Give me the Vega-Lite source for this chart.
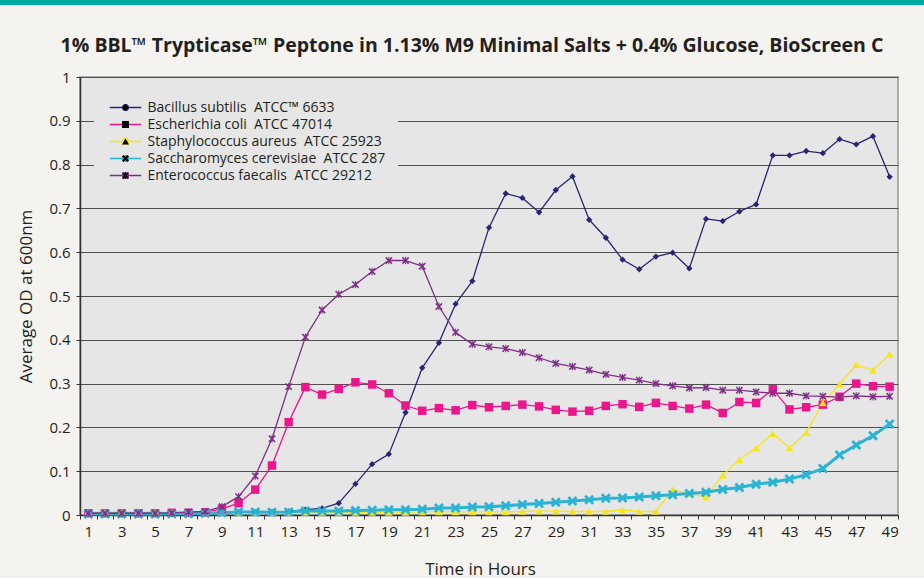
{
  "$schema": "https://vega.github.io/schema/vega-lite/v6.json",
  "background": "#F4F3EF",
  "padding": 0,
  "spacing": 29,
  "config": {
    "font": "Open Sans",
    "axis": {"labelFont": "Open Sans", "titleFont": "Open Sans", "labelColor": "#231F20", "titleColor": "#231F20", "titleFontWeight": "normal", "labelFontSize": 15, "titleFontSize": 17},
    "legend": {"labelFont": "Open Sans"}
  },
  "vconcat": [
    {
      "width": 924,
      "height": 5,
      "data": {"values": [{}]},
      "mark": {"type": "rect", "color": "#00A99D"},
      "encoding": {},
      "view": {"fill": "#00A99D", "stroke": null}
    },
    {
      "spacing": 0,
      "hconcat": [
        {
          "width": 1,
          "height": 438,
          "data": {"values": []},
          "mark": {"type": "rect"},
          "encoding": {},
          "view": {"fill": "#F4F3EF", "stroke": null}
        },
        {
          "width": 818,
          "height": 438,
          "title": {"text": "1% BBL™ Trypticase™ Peptone in 1.13% M9 Minimal Salts + 0.4% Glucose, BioScreen C", "fontSize": 19.5, "fontWeight": "bold", "color": "#231F20", "offset": 14, "dx": -17, "anchor": "middle"},
          "view": {"fill": "#E6E6E6", "stroke": "#999999", "strokeWidth": 1.5},
          "data": {"values": [
            {"h":1,"s":"Bacillus subtilis","od":0.004},{"h":2,"s":"Bacillus subtilis","od":0.005},{"h":3,"s":"Bacillus subtilis","od":0.004},{"h":4,"s":"Bacillus subtilis","od":0.005},{"h":5,"s":"Bacillus subtilis","od":0.004},{"h":6,"s":"Bacillus subtilis","od":0.005},{"h":7,"s":"Bacillus subtilis","od":0.005},{"h":8,"s":"Bacillus subtilis","od":0.006},{"h":9,"s":"Bacillus subtilis","od":0.006},{"h":10,"s":"Bacillus subtilis","od":0.006},{"h":11,"s":"Bacillus subtilis","od":0.007},{"h":12,"s":"Bacillus subtilis","od":0.007},{"h":13,"s":"Bacillus subtilis","od":0.008},{"h":14,"s":"Bacillus subtilis","od":0.012},{"h":15,"s":"Bacillus subtilis","od":0.015},{"h":16,"s":"Bacillus subtilis","od":0.027},{"h":17,"s":"Bacillus subtilis","od":0.071},{"h":18,"s":"Bacillus subtilis","od":0.116},{"h":19,"s":"Bacillus subtilis","od":0.139},{"h":20,"s":"Bacillus subtilis","od":0.234},{"h":21,"s":"Bacillus subtilis","od":0.336},{"h":22,"s":"Bacillus subtilis","od":0.393},{"h":23,"s":"Bacillus subtilis","od":0.482},{"h":24,"s":"Bacillus subtilis","od":0.534},{"h":25,"s":"Bacillus subtilis","od":0.656},{"h":26,"s":"Bacillus subtilis","od":0.734},{"h":27,"s":"Bacillus subtilis","od":0.724},{"h":28,"s":"Bacillus subtilis","od":0.691},{"h":29,"s":"Bacillus subtilis","od":0.742},{"h":30,"s":"Bacillus subtilis","od":0.773},{"h":31,"s":"Bacillus subtilis","od":0.674},{"h":32,"s":"Bacillus subtilis","od":0.633},{"h":33,"s":"Bacillus subtilis","od":0.583},{"h":34,"s":"Bacillus subtilis","od":0.561},{"h":35,"s":"Bacillus subtilis","od":0.59},{"h":36,"s":"Bacillus subtilis","od":0.599},{"h":37,"s":"Bacillus subtilis","od":0.563},{"h":38,"s":"Bacillus subtilis","od":0.676},{"h":39,"s":"Bacillus subtilis","od":0.671},{"h":40,"s":"Bacillus subtilis","od":0.693},{"h":41,"s":"Bacillus subtilis","od":0.709},{"h":42,"s":"Bacillus subtilis","od":0.821},{"h":43,"s":"Bacillus subtilis","od":0.821},{"h":44,"s":"Bacillus subtilis","od":0.831},{"h":45,"s":"Bacillus subtilis","od":0.826},{"h":46,"s":"Bacillus subtilis","od":0.858},{"h":47,"s":"Bacillus subtilis","od":0.846},{"h":48,"s":"Bacillus subtilis","od":0.865},{"h":49,"s":"Bacillus subtilis","od":0.772},
            {"h":1,"s":"Escherichia coli","od":0.004},{"h":2,"s":"Escherichia coli","od":0.004},{"h":3,"s":"Escherichia coli","od":0.004},{"h":4,"s":"Escherichia coli","od":0.004},{"h":5,"s":"Escherichia coli","od":0.004},{"h":6,"s":"Escherichia coli","od":0.005},{"h":7,"s":"Escherichia coli","od":0.005},{"h":8,"s":"Escherichia coli","od":0.006},{"h":9,"s":"Escherichia coli","od":0.014},{"h":10,"s":"Escherichia coli","od":0.027},{"h":11,"s":"Escherichia coli","od":0.058},{"h":12,"s":"Escherichia coli","od":0.113},{"h":13,"s":"Escherichia coli","od":0.212},{"h":14,"s":"Escherichia coli","od":0.292},{"h":15,"s":"Escherichia coli","od":0.275},{"h":16,"s":"Escherichia coli","od":0.288},{"h":17,"s":"Escherichia coli","od":0.303},{"h":18,"s":"Escherichia coli","od":0.298},{"h":19,"s":"Escherichia coli","od":0.278},{"h":20,"s":"Escherichia coli","od":0.25},{"h":21,"s":"Escherichia coli","od":0.238},{"h":22,"s":"Escherichia coli","od":0.244},{"h":23,"s":"Escherichia coli","od":0.239},{"h":24,"s":"Escherichia coli","od":0.251},{"h":25,"s":"Escherichia coli","od":0.246},{"h":26,"s":"Escherichia coli","od":0.249},{"h":27,"s":"Escherichia coli","od":0.252},{"h":28,"s":"Escherichia coli","od":0.248},{"h":29,"s":"Escherichia coli","od":0.24},{"h":30,"s":"Escherichia coli","od":0.236},{"h":31,"s":"Escherichia coli","od":0.238},{"h":32,"s":"Escherichia coli","od":0.249},{"h":33,"s":"Escherichia coli","od":0.253},{"h":34,"s":"Escherichia coli","od":0.247},{"h":35,"s":"Escherichia coli","od":0.256},{"h":36,"s":"Escherichia coli","od":0.249},{"h":37,"s":"Escherichia coli","od":0.243},{"h":38,"s":"Escherichia coli","od":0.252},{"h":39,"s":"Escherichia coli","od":0.233},{"h":40,"s":"Escherichia coli","od":0.258},{"h":41,"s":"Escherichia coli","od":0.256},{"h":42,"s":"Escherichia coli","od":0.287},{"h":43,"s":"Escherichia coli","od":0.241},{"h":44,"s":"Escherichia coli","od":0.246},{"h":45,"s":"Escherichia coli","od":0.252},{"h":46,"s":"Escherichia coli","od":0.27},{"h":47,"s":"Escherichia coli","od":0.3},{"h":48,"s":"Escherichia coli","od":0.294},{"h":49,"s":"Escherichia coli","od":0.293},
            {"h":1,"s":"Staphylococcus aureus","od":0.007},{"h":2,"s":"Staphylococcus aureus","od":0.007},{"h":3,"s":"Staphylococcus aureus","od":0.007},{"h":4,"s":"Staphylococcus aureus","od":0.007},{"h":5,"s":"Staphylococcus aureus","od":0.007},{"h":6,"s":"Staphylococcus aureus","od":0.007},{"h":7,"s":"Staphylococcus aureus","od":0.007},{"h":8,"s":"Staphylococcus aureus","od":0.007},{"h":9,"s":"Staphylococcus aureus","od":0.006},{"h":10,"s":"Staphylococcus aureus","od":0.006},{"h":11,"s":"Staphylococcus aureus","od":0.006},{"h":12,"s":"Staphylococcus aureus","od":0.006},{"h":13,"s":"Staphylococcus aureus","od":0.006},{"h":14,"s":"Staphylococcus aureus","od":0.006},{"h":15,"s":"Staphylococcus aureus","od":0.006},{"h":16,"s":"Staphylococcus aureus","od":0.006},{"h":17,"s":"Staphylococcus aureus","od":0.006},{"h":18,"s":"Staphylococcus aureus","od":0.006},{"h":19,"s":"Staphylococcus aureus","od":0.006},{"h":20,"s":"Staphylococcus aureus","od":0.006},{"h":21,"s":"Staphylococcus aureus","od":0.007},{"h":22,"s":"Staphylococcus aureus","od":0.007},{"h":23,"s":"Staphylococcus aureus","od":0.007},{"h":24,"s":"Staphylococcus aureus","od":0.007},{"h":25,"s":"Staphylococcus aureus","od":0.007},{"h":26,"s":"Staphylococcus aureus","od":0.007},{"h":27,"s":"Staphylococcus aureus","od":0.008},{"h":28,"s":"Staphylococcus aureus","od":0.009},{"h":29,"s":"Staphylococcus aureus","od":0.009},{"h":30,"s":"Staphylococcus aureus","od":0.008},{"h":31,"s":"Staphylococcus aureus","od":0.008},{"h":32,"s":"Staphylococcus aureus","od":0.008},{"h":33,"s":"Staphylococcus aureus","od":0.012},{"h":34,"s":"Staphylococcus aureus","od":0.008},{"h":35,"s":"Staphylococcus aureus","od":0.008},{"h":36,"s":"Staphylococcus aureus","od":0.058},{"h":37,"s":"Staphylococcus aureus","od":0.049},{"h":38,"s":"Staphylococcus aureus","od":0.041},{"h":39,"s":"Staphylococcus aureus","od":0.091},{"h":40,"s":"Staphylococcus aureus","od":0.126},{"h":41,"s":"Staphylococcus aureus","od":0.153},{"h":42,"s":"Staphylococcus aureus","od":0.186},{"h":43,"s":"Staphylococcus aureus","od":0.153},{"h":44,"s":"Staphylococcus aureus","od":0.188},{"h":45,"s":"Staphylococcus aureus","od":0.256},{"h":46,"s":"Staphylococcus aureus","od":0.299},{"h":47,"s":"Staphylococcus aureus","od":0.343},{"h":48,"s":"Staphylococcus aureus","od":0.33},{"h":49,"s":"Staphylococcus aureus","od":0.367},
            {"h":1,"s":"Saccharomyces cerevisiae","od":0.002},{"h":2,"s":"Saccharomyces cerevisiae","od":0.002},{"h":3,"s":"Saccharomyces cerevisiae","od":0.002},{"h":4,"s":"Saccharomyces cerevisiae","od":0.002},{"h":5,"s":"Saccharomyces cerevisiae","od":0.002},{"h":6,"s":"Saccharomyces cerevisiae","od":0.003},{"h":7,"s":"Saccharomyces cerevisiae","od":0.003},{"h":8,"s":"Saccharomyces cerevisiae","od":0.004},{"h":9,"s":"Saccharomyces cerevisiae","od":0.005},{"h":10,"s":"Saccharomyces cerevisiae","od":0.007},{"h":11,"s":"Saccharomyces cerevisiae","od":0.007},{"h":12,"s":"Saccharomyces cerevisiae","od":0.006},{"h":13,"s":"Saccharomyces cerevisiae","od":0.007},{"h":14,"s":"Saccharomyces cerevisiae","od":0.009},{"h":15,"s":"Saccharomyces cerevisiae","od":0.009},{"h":16,"s":"Saccharomyces cerevisiae","od":0.009},{"h":17,"s":"Saccharomyces cerevisiae","od":0.01},{"h":18,"s":"Saccharomyces cerevisiae","od":0.011},{"h":19,"s":"Saccharomyces cerevisiae","od":0.012},{"h":20,"s":"Saccharomyces cerevisiae","od":0.012},{"h":21,"s":"Saccharomyces cerevisiae","od":0.013},{"h":22,"s":"Saccharomyces cerevisiae","od":0.016},{"h":23,"s":"Saccharomyces cerevisiae","od":0.016},{"h":24,"s":"Saccharomyces cerevisiae","od":0.018},{"h":25,"s":"Saccharomyces cerevisiae","od":0.019},{"h":26,"s":"Saccharomyces cerevisiae","od":0.021},{"h":27,"s":"Saccharomyces cerevisiae","od":0.024},{"h":28,"s":"Saccharomyces cerevisiae","od":0.026},{"h":29,"s":"Saccharomyces cerevisiae","od":0.029},{"h":30,"s":"Saccharomyces cerevisiae","od":0.032},{"h":31,"s":"Saccharomyces cerevisiae","od":0.035},{"h":32,"s":"Saccharomyces cerevisiae","od":0.038},{"h":33,"s":"Saccharomyces cerevisiae","od":0.039},{"h":34,"s":"Saccharomyces cerevisiae","od":0.041},{"h":35,"s":"Saccharomyces cerevisiae","od":0.044},{"h":36,"s":"Saccharomyces cerevisiae","od":0.046},{"h":37,"s":"Saccharomyces cerevisiae","od":0.049},{"h":38,"s":"Saccharomyces cerevisiae","od":0.052},{"h":39,"s":"Saccharomyces cerevisiae","od":0.058},{"h":40,"s":"Saccharomyces cerevisiae","od":0.063},{"h":41,"s":"Saccharomyces cerevisiae","od":0.07},{"h":42,"s":"Saccharomyces cerevisiae","od":0.075},{"h":43,"s":"Saccharomyces cerevisiae","od":0.082},{"h":44,"s":"Saccharomyces cerevisiae","od":0.092},{"h":45,"s":"Saccharomyces cerevisiae","od":0.106},{"h":46,"s":"Saccharomyces cerevisiae","od":0.137},{"h":47,"s":"Saccharomyces cerevisiae","od":0.16},{"h":48,"s":"Saccharomyces cerevisiae","od":0.181},{"h":49,"s":"Saccharomyces cerevisiae","od":0.208},
            {"h":1,"s":"Enterococcus faecalis","od":0.004},{"h":2,"s":"Enterococcus faecalis","od":0.004},{"h":3,"s":"Enterococcus faecalis","od":0.004},{"h":4,"s":"Enterococcus faecalis","od":0.004},{"h":5,"s":"Enterococcus faecalis","od":0.004},{"h":6,"s":"Enterococcus faecalis","od":0.005},{"h":7,"s":"Enterococcus faecalis","od":0.007},{"h":8,"s":"Enterococcus faecalis","od":0.008},{"h":9,"s":"Enterococcus faecalis","od":0.019},{"h":10,"s":"Enterococcus faecalis","od":0.042},{"h":11,"s":"Enterococcus faecalis","od":0.089},{"h":12,"s":"Enterococcus faecalis","od":0.174},{"h":13,"s":"Enterococcus faecalis","od":0.293},{"h":14,"s":"Enterococcus faecalis","od":0.406},{"h":15,"s":"Enterococcus faecalis","od":0.468},{"h":16,"s":"Enterococcus faecalis","od":0.504},{"h":17,"s":"Enterococcus faecalis","od":0.526},{"h":18,"s":"Enterococcus faecalis","od":0.556},{"h":19,"s":"Enterococcus faecalis","od":0.581},{"h":20,"s":"Enterococcus faecalis","od":0.581},{"h":21,"s":"Enterococcus faecalis","od":0.568},{"h":22,"s":"Enterococcus faecalis","od":0.476},{"h":23,"s":"Enterococcus faecalis","od":0.417},{"h":24,"s":"Enterococcus faecalis","od":0.39},{"h":25,"s":"Enterococcus faecalis","od":0.384},{"h":26,"s":"Enterococcus faecalis","od":0.38},{"h":27,"s":"Enterococcus faecalis","od":0.371},{"h":28,"s":"Enterococcus faecalis","od":0.359},{"h":29,"s":"Enterococcus faecalis","od":0.346},{"h":30,"s":"Enterococcus faecalis","od":0.339},{"h":31,"s":"Enterococcus faecalis","od":0.331},{"h":32,"s":"Enterococcus faecalis","od":0.321},{"h":33,"s":"Enterococcus faecalis","od":0.314},{"h":34,"s":"Enterococcus faecalis","od":0.308},{"h":35,"s":"Enterococcus faecalis","od":0.3},{"h":36,"s":"Enterococcus faecalis","od":0.295},{"h":37,"s":"Enterococcus faecalis","od":0.29},{"h":38,"s":"Enterococcus faecalis","od":0.291},{"h":39,"s":"Enterococcus faecalis","od":0.285},{"h":40,"s":"Enterococcus faecalis","od":0.285},{"h":41,"s":"Enterococcus faecalis","od":0.281},{"h":42,"s":"Enterococcus faecalis","od":0.278},{"h":43,"s":"Enterococcus faecalis","od":0.278},{"h":44,"s":"Enterococcus faecalis","od":0.272},{"h":45,"s":"Enterococcus faecalis","od":0.271},{"h":46,"s":"Enterococcus faecalis","od":0.269},{"h":47,"s":"Enterococcus faecalis","od":0.272},{"h":48,"s":"Enterococcus faecalis","od":0.27},{"h":49,"s":"Enterococcus faecalis","od":0.271}
          ]},
          "encoding": {
            "x": {"field": "h", "type": "quantitative", "scale": {"domain": [0.5, 49.5], "nice": false, "zero": false},
              "axis": {
                "values": [0.5,1,1.5,2,2.5,3,3.5,4,4.5,5,5.5,6,6.5,7,7.5,8,8.5,9,9.5,10,10.5,11,11.5,12,12.5,13,13.5,14,14.5,15,15.5,16,16.5,17,17.5,18,18.5,19,19.5,20,20.5,21,21.5,22,22.5,23,23.5,24,24.5,25,25.5,26,26.5,27,27.5,28,28.5,29,29.5,30,30.5,31,31.5,32,32.5,33,33.5,34,34.5,35,35.5,36,36.5,37,37.5,38,38.5,39,39.5,40,40.5,41,41.5,42,42.5,43,43.5,44,44.5,45,45.5,46,46.5,47,47.5,48,48.5,49,49.5],
                "format": "~g",
                "labelExpr": "datum.value % 2 == 1 ? datum.label : ''",
                "tickOpacity": {"condition": {"test": "datum.value % 1 == 0", "value": 0}, "value": 1},
                "tickSize": 4, "tickColor": "#333333", "labelPadding": 5, "labelOverlap": false, "labelFlush": false,
                "grid": false, "domainColor": "#333333", "domainWidth": 1.5,
                "title": "Time in Hours", "titlePadding": 22, "titleX": 400
              }
            },
            "y": {"field": "od", "type": "quantitative", "scale": {"domain": [0, 1], "nice": false},
              "axis": {
                "values": [0,0.1,0.2,0.3,0.4,0.5,0.6,0.7,0.8,0.9,1],
                "format": ".1~f", "tickSize": 4, "tickColor": "#333333", "labelPadding": 6,
                "domainColor": "#333333", "domainWidth": 1.5, "gridColor": "#505050", "gridWidth": 1,
                "title": [" ", "Average OD at 600nm"], "titleLineHeight": 15, "titlePadding": 13.3
              }
            }
          },
          "layer": [
            {
              "mark": {"type": "line", "strokeJoin": "round"},
              "encoding": {
                "stroke": {"field": "s", "type": "nominal",
                  "scale": {"domain": ["Bacillus subtilis", "Escherichia coli", "Staphylococcus aureus", "Saccharomyces cerevisiae", "Enterococcus faecalis"],
                            "range": ["#262673", "#EC168C", "#F5E61A", "#2BB3D3", "#7E2F85"]},
                  "legend": {"orient": "none", "legendX": 94, "legendY": 88.5, "padding": 12, "title": null, "fillColor": "#E6E6E6",
                    "symbolType": "M-4.5,0L4.5,0", "symbolSize": 49, "symbolStrokeWidth": 1.5, "symbolOffset": 12.5,
                    "labelOffset": 15, "labelFontSize": 14, "labelColor": "#231F20", "rowPadding": 3, "labelLimit": 400,
                    "labelExpr": "datum.label == 'Bacillus subtilis' ? 'Bacillus subtilis\u00a0\u00a0ATCC™ 6633' : datum.label == 'Escherichia coli' ? 'Escherichia coli\u00a0\u00a0ATCC 47014' : datum.label == 'Staphylococcus aureus' ? 'Staphylococcus aureus\u00a0\u00a0ATCC 25923' : datum.label == 'Saccharomyces cerevisiae' ? 'Saccharomyces cerevisiae\u00a0\u00a0ATCC 287' : 'Enterococcus faecalis\u00a0\u00a0ATCC 29212'"}
                },
                "strokeWidth": {"condition": {"test": "datum.s == 'Saccharomyces cerevisiae'", "value": 3}, "value": 1.3}
              }
            },
            {
              "mark": {"type": "point", "filled": true, "opacity": 1},
              "encoding": {
                "color": {"field": "s", "type": "nominal",
                  "sort": ["Bacillus subtilis", "Escherichia coli", "Staphylococcus aureus", "Saccharomyces cerevisiae", "Enterococcus faecalis"],
                  "scale": {"range": ["#262673", "#EC168C", "#F5E61A", "#2BB3D3", "#7E2F85"]},
                  "legend": {"orient": "none", "legendX": 94, "legendY": 88.5, "padding": 12, "title": null,
                    "symbolSize": 49, "symbolStrokeWidth": 1.5, "symbolOffset": 12.5,
                    "labelOffset": 15, "labelFontSize": 14, "labelOpacity": 0, "rowPadding": 3, "labelLimit": 400,
                    "labelExpr": "'\u00a0'"}
                },
                "shape": {"field": "s", "type": "nominal",
                  "sort": ["Bacillus subtilis", "Escherichia coli", "Staphylococcus aureus", "Saccharomyces cerevisiae", "Enterococcus faecalis"],
                  "scale": {"range": ["diamond", "square", "triangle-up",
                    "M-1,-0.6L-0.6,-1L0,-0.4L0.6,-1L1,-0.6L0.4,0L1,0.6L0.6,1L0,0.4L-0.6,1L-1,0.6L-0.4,0Z",
                    "M-1,-0.7L-0.7,-1L0,-0.3L0.7,-1L1,-0.7L0.3,0L1,0.7L0.7,1L0,0.3L-0.7,1L-1,0.7L-0.3,0ZM-0.14,-1L0.14,-1L0.14,1L-0.14,1Z"]},
                  "legend": {"orient": "none", "legendX": 94, "legendY": 88.5, "padding": 12, "title": null,
                    "symbolSize": 49, "symbolStrokeWidth": 1.5, "symbolOffset": 12.5,
                    "labelOffset": 15, "labelFontSize": 14, "labelOpacity": 0, "rowPadding": 3, "labelLimit": 400,
                    "labelExpr": "'\u00a0'"}
                },
                "size": {"condition": [
                  {"test": "datum.s == 'Escherichia coli'", "value": 72},
                  {"test": "datum.s == 'Staphylococcus aureus'", "value": 60},
                  {"test": "datum.s == 'Saccharomyces cerevisiae'", "value": 100},
                  {"test": "datum.s == 'Enterococcus faecalis'", "value": 55}
                ], "value": 40}
              }
            }
          ]
        }
      ]
    }
  ]
}
